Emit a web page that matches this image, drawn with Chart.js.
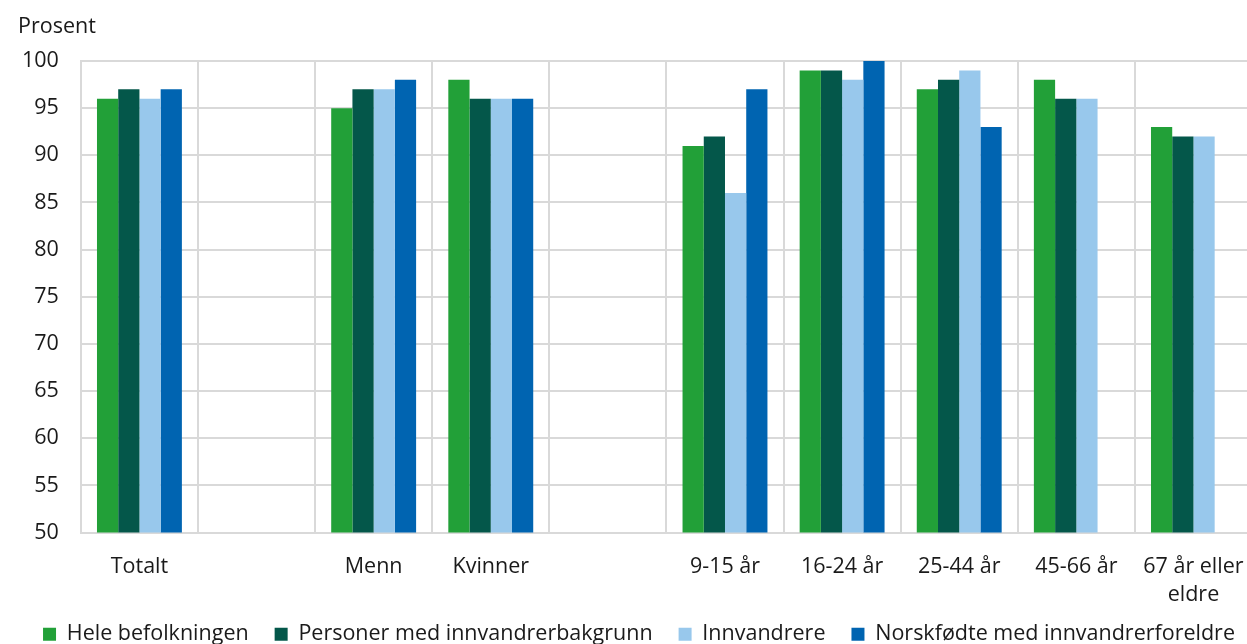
<!DOCTYPE html>
<html>
<head>
<meta charset="utf-8">
<script src="https://cdn.jsdelivr.net/npm/chart.js@4"></script>
<style>
html,body{margin:0;padding:0;background:#fff;overflow:hidden;}
#wrap{width:1274px;height:644px;}
</style>
</head>
<body>
<div id="wrap"><canvas id="c" width="1274" height="644"></canvas></div>
<script>
const categories = ['Totalt', '', 'Menn', 'Kvinner', '', '9-15 år', '16-24 år', '25-44 år', '45-66 år', ['67 år eller', 'eldre']];
const seriesNames = ['Hele befolkningen', 'Personer med innvandrerbakgrunn', 'Innvandrere', 'Norskfødte med innvandrerforeldre'];
const heleBefolkningen = [96, null, 95, 98, null, 91, 99, 97, 98, 93];
const innvandrerbakgrunn = [97, null, 97, 96, null, 92, 99, 98, 96, 92];
const innvandrere = [96, null, 97, 96, null, 86, 98, 99, 96, 92];
const norskfodte = [97, null, 98, 96, null, 97, 100, 93, null, null];
const yTicks = [50, 55, 60, 65, 70, 75, 80, 85, 90, 95, 100];
const colors = ['#22a038', '#04574a', '#98c8ec', '#0064b1'];

const FONT = "'Open Sans', sans-serif";
const FS = 21.5;
Chart.defaults.font.family = FONT;
Chart.defaults.font.size = FS;
Chart.defaults.color = '#1a1a1a';

const axisTitle = {
  id: 'axisTitle',
  afterDraw(chart) {
    const ctx = chart.ctx;
    ctx.save();
    ctx.font = FS + "px " + FONT;
    ctx.fillStyle = '#1a1a1a';
    ctx.textBaseline = 'middle';
    ctx.textAlign = 'left';
    ctx.fillText('Prosent', 18, 27);
    ctx.restore();
  }
};

// place the legend row higher than its layout slot, so the plot can extend down
const legendShift = {
  id: 'legendShift',
  afterLayout(chart) {
    const lg = chart.legend;
    if (!lg) return;
    const dy = -31, dx = 13;
    lg.top += dy; lg.bottom += dy;
    lg.left += dx; lg.right += dx;
  }
};

const allSeries = [heleBefolkningen, innvandrerbakgrunn, innvandrere, norskfodte];
new Chart(document.getElementById('c'), {
  type: 'bar',
  data: {
    labels: categories,
    datasets: allSeries.map((d, i) => ({
      label: seriesNames[i],
      data: d,
      backgroundColor: colors[i],
      borderWidth: 0,
      barPercentage: 1,
      categoryPercentage: 0.725
    }))
  },
  options: {
    responsive: false,
    animation: false,
    layout: { padding: { top: 61, left: 0, right: 22, bottom: -42 } },
    plugins: {
      legend: {
        position: 'bottom',
        labels: { boxWidth: 13, boxHeight: 13, padding: 26, color: '#1a1a1a', font: { size: FS } }
      },
      tooltip: { enabled: false }
    },
    scales: {
      x: {
        grid: { color: '#d9d9d9', lineWidth: 2, drawTicks: false, offset: true },
        border: { color: '#d9d9d9', width: 2 },
        ticks: { padding: 20, maxRotation: 0, autoSkip: false, font: { size: FS, lineHeight: 1.3 } }
      },
      y: {
        min: 50, max: 100,
        afterBuildTicks(axis) { axis.ticks = yTicks.map(v => ({ value: v })); },
        grid: { color: '#d9d9d9', lineWidth: 2, drawTicks: false },
        border: { color: '#d9d9d9', width: 2 },
        ticks: { padding: 22, font: { size: FS } }
      }
    }
  },
  plugins: [axisTitle, legendShift]
});
</script>
</body>
</html>
